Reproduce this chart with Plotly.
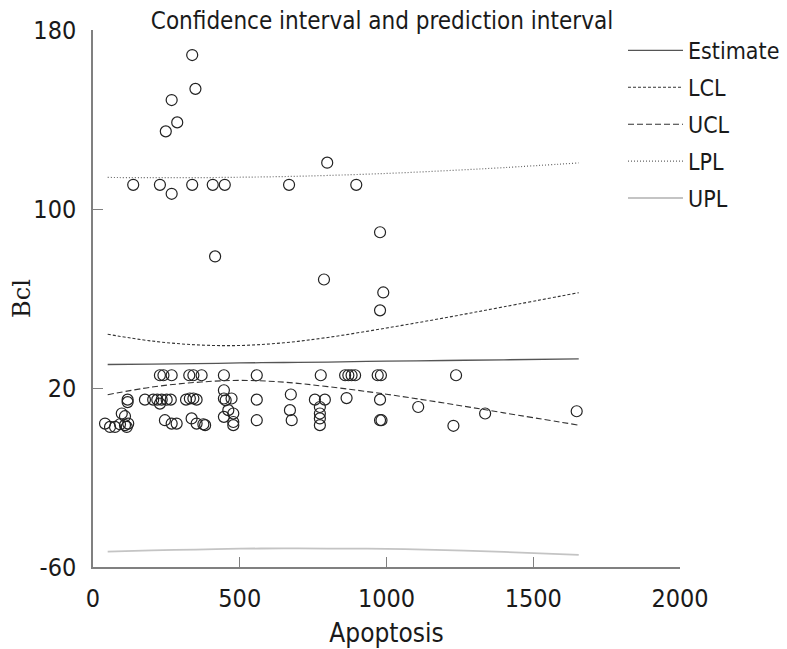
import plotly.graph_objects as go

# Observed points (Apoptosis, Bcl)
apoptosis = [338, 349, 268, 287, 248, 798,
             137, 228, 338, 408, 449, 668, 897, 268,
             978, 416, 787, 989, 978,
             228, 240, 268, 328, 342, 370, 446, 558, 776, 859, 870, 881, 893, 970, 981, 1237,
             118, 118, 177, 205, 219, 234, 251, 265, 228, 317, 330, 342, 353, 446, 446, 452, 472,
             558, 674, 756, 790, 864, 978, 1108, 1336, 1648, 1228, 983,
             98, 109, 41, 58, 75, 92, 109, 120, 115,
             245, 268, 285, 336, 353, 376, 382,
             446, 461, 478, 478, 478,
             558, 671, 677, 773, 773, 773, 773, 978]
bcl = [168.8, 153.7, 148.7, 138.7, 134.7, 120.7,
       110.8, 110.8, 110.8, 110.8, 110.8, 110.8, 110.8, 106.8,
       89.6, 78.8, 68.5, 62.7, 54.7,
       25.7, 25.7, 25.7, 25.7, 25.7, 25.7, 25.7, 25.7, 25.7, 25.7, 25.7, 25.7, 25.7, 25.7, 25.7, 25.7,
       14.8, 13.7, 14.8, 14.8, 14.8, 14.8, 14.8, 14.8, 13.0, 14.8, 15.3, 15.3, 14.8, 19.0, 15.3, 14.5, 15.3,
       14.8, 17.1, 14.8, 14.8, 15.5, 14.8, 11.5, 8.6, 9.6, 3.1, 5.6,
       8.6, 7.4, 4.1, 2.6, 2.6, 3.8, 3.4, 4.1, 2.6,
       5.6, 4.1, 4.1, 6.4, 4.1, 3.8, 3.4,
       7.1, 10.1, 8.6, 4.8, 3.4,
       5.6, 10.1, 5.6, 11.5, 8.6, 6.4, 3.4, 5.6]

# Curves
curve_x = [50, 200, 350, 500, 650, 800, 1000, 1200, 1400, 1655]
estimate = [30.5, 30.7, 30.9, 31.2, 31.4, 31.6, 32.0, 32.3, 32.6, 33.0]
lcl = [44.0, 41.0, 39.3, 39.0, 40.2, 42.6, 46.8, 51.4, 56.3, 62.6]
ucl = [17.0, 20.4, 22.5, 23.4, 22.6, 20.6, 17.2, 13.2, 8.9, 3.4]
lpl = [114.1, 114.0, 114.0, 114.2, 114.5, 115.0, 115.9, 117.1, 118.5, 120.6]
upl = [-53.1, -52.6, -52.2, -51.8, -51.7, -51.75, -51.9, -52.5, -53.25, -54.6]

x_ticks = [0, 500, 1000, 1500, 2000]
y_ticks = [-60, 20, 100, 180]
y_tick_text = ["-60", "20", "100", "180"]

FONT = "DejaVu Sans Condensed"
AX = "#808080"
W, H = 779, 641  # page body has an 8px default margin

fig = go.Figure()
fig.add_trace(go.Scatter(x=apoptosis, y=bcl, mode="markers", showlegend=False,
                         marker=dict(symbol="circle-open", size=11,
                                     line=dict(width=1.2, color="#222222"), color="#222222")))
specs = [("Estimate", estimate, dict(color="#555555", width=1.3, dash="solid")),
         ("LCL", lcl, dict(color="#333333", width=1.1, dash="3px,2px")),
         ("UCL", ucl, dict(color="#333333", width=1.1, dash="6px,3px")),
         ("LPL", lpl, dict(color="#666666", width=1.2, dash="1px,2px")),
         ("UPL", upl, dict(color="#c4c4c4", width=1.8, dash="solid"))]
for i, (name, ys, ln) in enumerate(specs):
    fig.add_trace(go.Scatter(x=curve_x, y=ys, mode="lines", name=name, line=dict(shape="spline", **ln),
                             legendgroup=f"g{i}"))

fig.update_layout(
    width=W, height=H,
    margin=dict(l=85, r=107, t=22, b=82, autoexpand=False),
    paper_bgcolor="white", plot_bgcolor="white",
    font=dict(family=FONT, size=25, color="#1a1a1a"),
    title=dict(text="Confidence interval and prediction interval", xref="container", yref="container",
               x=374 / W, y=1 - 13 / H, xanchor="center", yanchor="middle",
               font=dict(family=FONT, size=24, color="#1a1a1a")),
    legend=dict(x=(615 - 85) / 587, y=1.002, xanchor="left", yanchor="top",
                bgcolor="rgba(0,0,0,0)", font=dict(family=FONT, size=23), tracegroupgap=4,
                itemwidth=55),
    xaxis=dict(range=[0, 2000], tickvals=x_ticks, showgrid=False, zeroline=False, automargin=False,
               showline=True, linecolor=AX, linewidth=1.5, ticks="inside", ticklen=10,
               tickcolor=AX, tickwidth=1.2, ticklabelstandoff=8,
               title=dict(text="Apoptosis", standoff=12, font=dict(family=FONT, size=26))),
    yaxis=dict(range=[-60, 180], tickvals=y_ticks, ticktext=y_tick_text, showgrid=False,
               zeroline=False, automargin=False,
               showline=True, linecolor=AX, linewidth=1.5, ticks="inside", ticklen=10,
               tickcolor=AX, tickwidth=1.2, ticklabelstandoff=10,
               title=dict(text="Bcl", standoff=34, font=dict(family="DejaVu Serif", size=24))),
)
fig.write_html("out.html")
